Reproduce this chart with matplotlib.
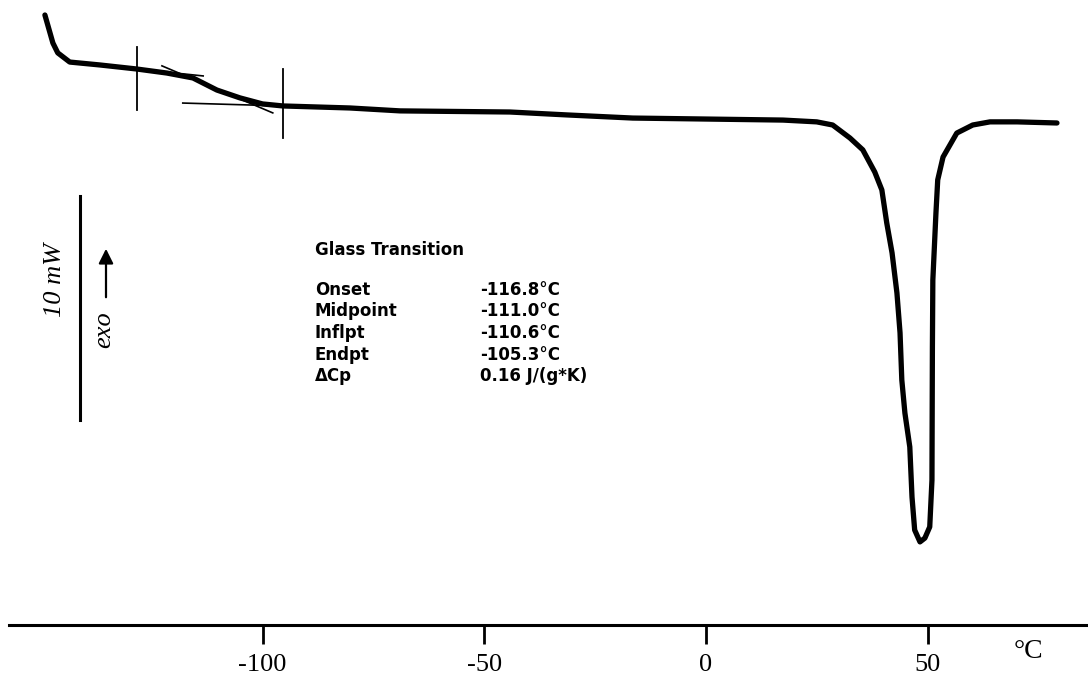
import matplotlib.pyplot as plt
import numpy as np

plt.rcParams['axes.unicode_minus'] = False

# DSC trace: temperature (degC) vs heat flow (mW, exo up)
temp = [-149.1, -147.3, -146.2, -143.5, -136.7, -128.4, -121.6, -115.7, -110.3,
        -105.1, -100.0, -95.4, -80.3, -69.0, -44.2, -31.4, -16.5, -1.4, 17.4,
        25.0, 28.6, 32.5, 35.4, 38.1, 39.7, 40.8, 42.0, 43.1, 43.8, 44.2, 44.9,
        46.0, 46.5, 47.1, 48.3, 49.4, 50.5, 51.0, 51.05, 51.1, 51.2, 51.9, 52.3,
        53.5, 56.6, 60.2, 64.1, 70.2, 79.2]
heat = [27.23, 25.98, 25.54, 25.13, 25.00, 24.82, 24.64, 24.42, 23.88,
        23.53, 23.26, 23.17, 23.08, 22.95, 22.90, 22.77, 22.63, 22.59, 22.54,
        22.46, 22.32, 21.74, 21.21, 20.22, 19.42, 17.95, 16.61, 14.82, 13.04, 10.94, 9.46,
        7.95, 5.71, 4.24, 3.71, 3.88, 4.38, 6.47, 9.46, 12.41, 15.40, 18.39, 19.87,
        20.89, 21.96, 22.32, 22.46, 22.46, 22.41]

# glass transition evaluation marks
onset_mark = -128.4
end_mark = -95.4
tangent_x = [-122.7, -97.7]
tangent_y = [24.96, 22.86]
base_hi_x = [-128.4, -113.4]
base_hi_y = [24.82, 24.51]
base_lo_x = [-118.0, -95.4]
base_lo_y = [23.30, 23.17]

xticks = [-100, -50, 0, 50]

labels = ['Onset', 'Midpoint', 'Inflpt', 'Endpt', '\u0394Cp']
values = ['-116.8\u00b0C', '-111.0\u00b0C', '-110.6\u00b0C', '-105.3\u00b0C', '0.16 J/(g*K)']

W, H = 1088, 677
fig = plt.figure(figsize=(W / 100, H / 100), dpi=100)
ax = fig.add_axes([9 / W, 52 / H, 1 - 9 / W, 625 / H])

ax.plot(temp, heat, color='black', lw=3.8, solid_capstyle='round', solid_joinstyle='round')
ax.plot([onset_mark, onset_mark], [25.80, 22.99], color='black', lw=1.3)
ax.plot([end_mark, end_mark], [24.82, 21.74], color='black', lw=1.3)
ax.plot(tangent_x, tangent_y, color='black', lw=1.2)
ax.plot(base_hi_x, base_hi_y, color='black', lw=1.2)
ax.plot(base_lo_x, base_lo_y, color='black', lw=1.2)

# 10 mW scale bar
ax.plot([-141.2, -141.2], [9.15, 19.15], color='black', lw=2.2)

ax.set_xlim(-157.2, 86.2)
ax.set_ylim(0, 27.9)
for s in ['top', 'right', 'left']:
    ax.spines[s].set_visible(False)
ax.spines['bottom'].set_linewidth(2.2)
ax.set_yticks([])
ax.set_xticks(xticks)
ax.set_xticklabels([str(t) for t in xticks], family='Liberation Serif', fontsize=19)
ax.tick_params(axis='x', direction='out', length=14, width=2, pad=7)

fig.text(1028 / W, 1 - 651 / H, '\u00b0C', family='Liberation Serif', fontsize=20,
         ha='center', va='center')

fig.text(55 / W, 1 - 280 / H, '10 mW', family='Liberation Serif', style='italic',
         fontsize=19, rotation=90, ha='center', va='center')
fig.text(104 / W, 1 - 330 / H, 'exo', family='Liberation Serif', style='italic',
         fontsize=19, rotation=90, ha='center', va='center')
fig.add_artist(plt.Annotation('', xy=(106 / W, 1 - 246 / H), xytext=(106 / W, 1 - 300 / H),
               xycoords='figure fraction', textcoords='figure fraction',
               arrowprops=dict(arrowstyle='-|>', color='black', lw=1.6,
                               mutation_scale=22)))

# glass transition results
fs = 12
fig.text(315 / W, 1 - 250 / H, 'Glass Transition', fontsize=fs, weight='bold',
         ha='left', va='center')
for i, (lab, val) in enumerate(zip(labels, values)):
    yy = 1 - (290 + 21.5 * i) / H
    fig.text(315 / W, yy, lab, fontsize=fs, weight='bold', ha='left', va='center')
    fig.text(480 / W, yy, val, fontsize=fs, weight='bold', ha='left', va='center')

fig.savefig('out.png', dpi=100)
